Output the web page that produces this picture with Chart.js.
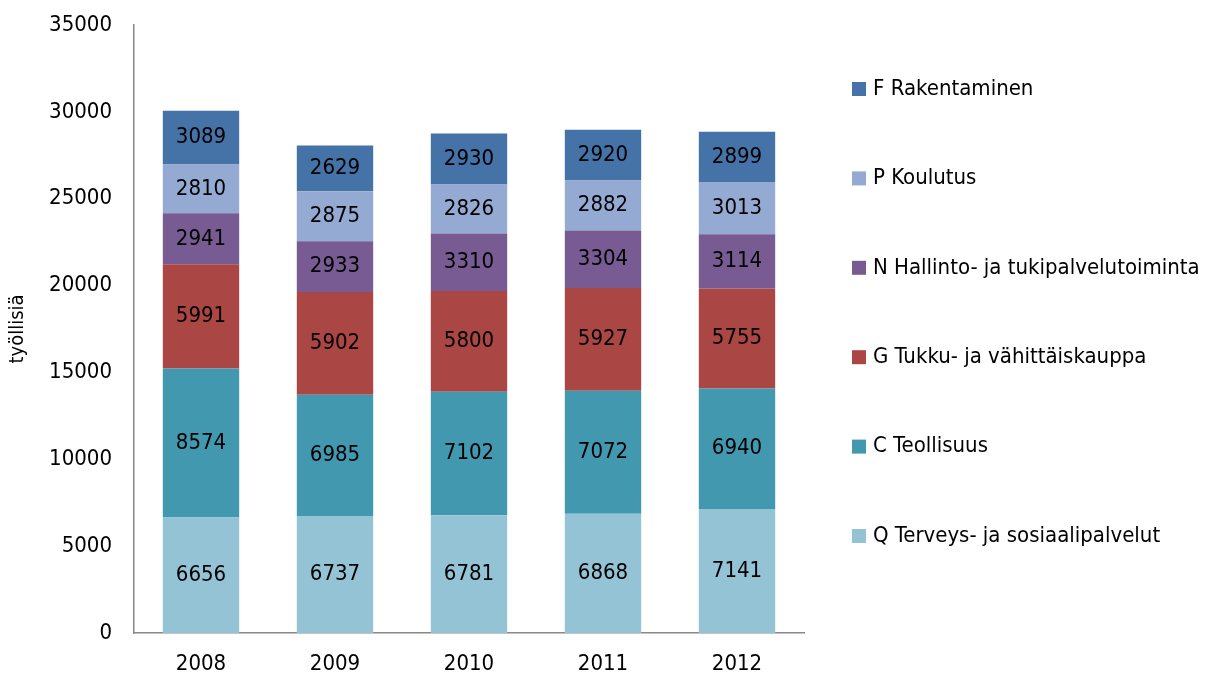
<!DOCTYPE html>
<html>
<head>
<meta charset="utf-8">
<script src="https://cdn.jsdelivr.net/npm/chart.js@4"></script>
<style>
  html, body { margin: 0; padding: 0; background: #fff; }
  #wrap { width: 1211px; height: 685px; }
</style>
</head>
<body>
<div id="wrap"><canvas id="tyoChart" width="1211" height="685"></canvas></div>
<script>
// Vuodet ja toimialat (alhaalta ylös pinossa)
const vuodet = ['2008', '2009', '2010', '2011', '2012'];
const terveys = [6656, 6737, 6781, 6868, 7141];
const teollisuus = [8574, 6985, 7102, 7072, 6940];
const kauppa = [5991, 5902, 5800, 5927, 5755];
const hallinto = [2941, 2933, 3310, 3304, 3114];
const koulutus = [2810, 2875, 2826, 2882, 3013];
const rakentaminen = [3089, 2629, 2930, 2920, 2899];
const yTicks = [0, 5000, 10000, 15000, 20000, 25000, 30000, 35000];

const fontti = "'DejaVu Sans Condensed', 'Open Sans', sans-serif";

const sarjat = [
  { label: 'Q Terveys- ja sosiaalipalvelut', data: terveys, backgroundColor: '#93c3d5' },
  { label: 'C Teollisuus', data: teollisuus, backgroundColor: '#4298af' },
  { label: 'G Tukku- ja vähittäiskauppa', data: kauppa, backgroundColor: '#aa4643' },
  { label: 'N Hallinto- ja tukipalvelutoiminta', data: hallinto, backgroundColor: '#775b92' },
  { label: 'P Koulutus', data: koulutus, backgroundColor: '#94aad3' },
  { label: 'F Rakentaminen', data: rakentaminen, backgroundColor: '#4572a7' }
];

// Arvot palkkien sisään
const arvoPlugin = {
  id: 'arvot',
  afterDatasetsDraw(chart) {
    const ctx = chart.ctx;
    ctx.save();
    ctx.font = '22px ' + fontti;
    ctx.fillStyle = '#000';
    ctx.textAlign = 'center';
    ctx.textBaseline = 'middle';
    chart.data.datasets.forEach((ds, i) => {
      chart.getDatasetMeta(i).data.forEach((bar, j) => {
        ctx.fillText(String(ds.data[j]), bar.x, (bar.y + bar.base) / 2);
      });
    });
    ctx.restore();
  }
};

// Selite oikealla, käänteisessä järjestyksessä
const seliteplugin = {
  id: 'selite',
  afterDraw(chart) {
    const ctx = chart.ctx;
    ctx.save();
    ctx.font = '22px ' + fontti;
    ctx.textBaseline = 'middle';
    ctx.textAlign = 'left';
    const n = chart.data.datasets.length;
    for (let k = 0; k < n; k++) {
      const ds = chart.data.datasets[n - 1 - k];
      const y = 89 + k * 89.4;
      ctx.fillStyle = ds.backgroundColor;
      ctx.fillRect(852, y - 7, 14, 14);
      ctx.fillStyle = '#000';
      ctx.fillText(ds.label, 873, y);
    }
    ctx.restore();
  }
};

new Chart(document.getElementById('tyoChart').getContext('2d'), {
  type: 'bar',
  data: { labels: vuodet, datasets: sarjat },
  options: {
    responsive: false,
    animation: false,
    layout: { padding: { top: 25, right: 407, left: 0, bottom: 0 } },
    datasets: { bar: { categoryPercentage: 1, barPercentage: 0.57 } },
    plugins: { legend: { display: false }, tooltip: { enabled: false } },
    scales: {
      x: {
        stacked: true,
        grid: { display: false, drawTicks: false },
        border: { display: true, color: '#888', width: 1.5 },
        ticks: { color: '#000', font: { size: 22, family: fontti }, padding: 18 },
        afterFit(s) { s.height = 52; s.paddingLeft = 0; s.paddingRight = 0; }
      },
      y: {
        stacked: true,
        min: 0,
        max: 35000,
        grid: { display: false, drawTicks: false },
        border: { display: true, color: '#888', width: 1.5 },
        afterBuildTicks(s) { s.ticks = yTicks.map(v => ({ value: v })); },
        ticks: { color: '#000', font: { size: 22, family: fontti }, padding: 22, callback: v => String(v) },
        title: { display: true, text: 'työllisiä', color: '#000', font: { size: 20, family: fontti }, padding: { top: 6, bottom: 0 } },
        afterFit(s) { s.width = 134; s.paddingTop = 0; s.paddingBottom = 0; }
      }
    }
  },
  plugins: [arvoPlugin, seliteplugin]
});
</script>
</body>
</html>
